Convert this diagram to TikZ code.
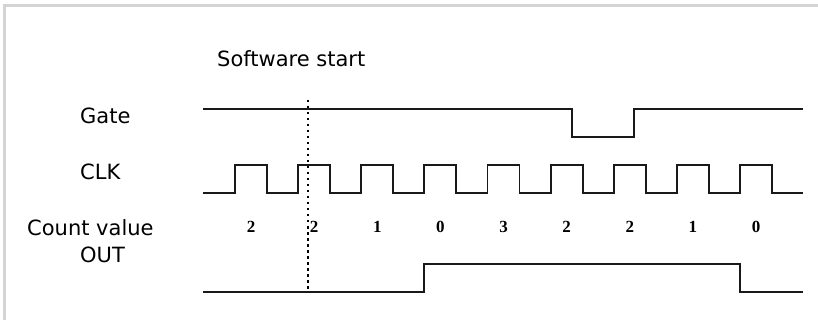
\documentclass[tikz,border=0pt]{standalone}
\usepackage{fontspec}
\setmainfont{DejaVu Sans}
\newfontfamily\digitfont{Liberation Serif}
\tikzset{
	wave/.style={line width=1.8pt, draw=black!90, line join=miter},
	siglabel/.style={anchor=base west, inner sep=0pt, font=\fontsize{21}{21}\selectfont},
	cntlabel/.style={anchor=base, inner sep=0pt, font=\digitfont\bfseries\fontsize{17}{17}\selectfont},
	startline/.style={line width=2pt, dash pattern=on 2.5pt off 3.5pt},
}
\begin{document}
\begin{tikzpicture}[x=1pt,y=-1pt]
				\useasboundingbox (0,0) rectangle (818,320);
				\draw[black!17,line width=3pt] (4.5,320) -- (4.5,5.5) -- (818,5.5);
				%
				\node[siglabel] (start) at (217,67) {Software start};
				\node[siglabel] (gate) at (80,124) {Gate};
				\node[siglabel] (clk) at (80,180) {CLK};
				\node[siglabel] (count) at (27,235) {Count value};
				\node[siglabel] (out) at (80,262) {OUT};
				%
				\draw[wave] (203,109) -- (572,109) -- (572,137) -- (634,137) -- (634,109) -- (803,109);
				\draw[wave] (203,193) foreach \i in {0,...,8}{
						-- ({235+63.125*\i},193) -- ({235+63.125*\i},165)
						-- ({267+63.125*\i},165) -- ({267+63.125*\i},193)
					} -- (803,193);
				\draw[wave] (203,292) -- (424,292) -- (424,264) -- (740,264) -- (740,292) -- (803,292);
				%
				\foreach \v [count=\i from 0] in {2,2,1,0,3,2,2,1,0}
				\node[cntlabel] (c\i) at ({251+63.125*\i},233) {\v};
				%
				\coordinate (s0) at (307.5,100);
				\coordinate (s1) at (307.5,292);
				\draw[startline] (s0) -- (s1);
			\end{tikzpicture}
\end{document}
